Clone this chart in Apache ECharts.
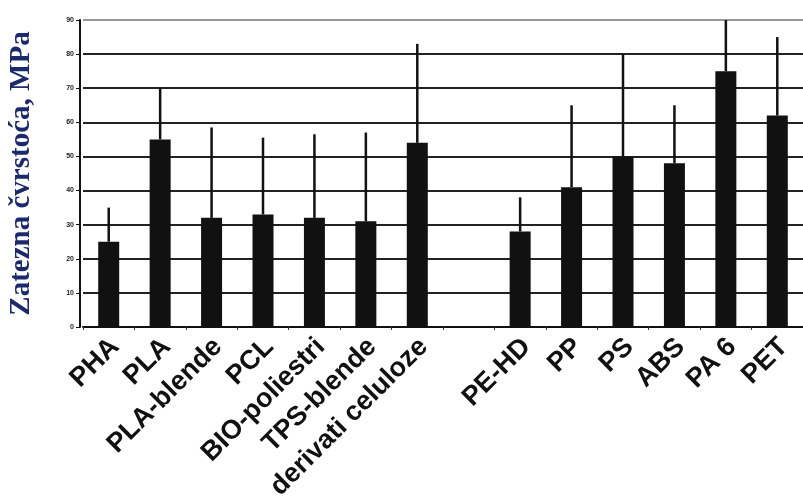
<!DOCTYPE html>
<html>
<head>
<meta charset="utf-8">
<script src="https://cdn.jsdelivr.net/npm/echarts@6/dist/echarts.min.js"></script>
<style>
html,body{margin:0;padding:0;background:#fff;}
#c{width:803px;height:496px;}
</style>
</head>
<body>
<div id="c"></div>
<script>
const categories = ['PHA','PLA','PLA-blende','PCL','BIO-poliestri','TPS-blende','derivati celuloze','','PE-HD','PP','PS','ABS','PA 6','PET'];
const strength = [25,55,32,33,32,31,54,null,28,41,50,48,75,62];
const errorTop = [35,70,58.5,55.5,56.5,57,83,null,38,65,80,65,90,85];
const yTicks = [0,10,20,30,40,50,60,70,80,90];

const chart = echarts.init(document.getElementById('c'), null, {renderer:'canvas'});
const errData = categories.map((c,i)=>[i, strength[i], errorTop[i]]);
chart.setOption({
  animation:false,
  backgroundColor:'#fff',
  grid:{left:83, right:0, top:20, bottom:169, containLabel:false, outerBoundsMode:'none'},
  xAxis:{
    type:'category', data:categories,
    axisLine:{lineStyle:{color:'#111', width:2}},
    axisTick:{show:true, length:3, interval:0, lineStyle:{color:'#333'}},
    axisLabel:{interval:0, rotate:45, margin:22, padding:[0,-9,0,0], color:'#111', fontFamily:'Liberation Sans', fontWeight:'bold', fontSize:27}
  },
  yAxis:{
    type:'value', min:0, max:90, interval:10, offset:3,
    axisLine:{show:true, lineStyle:{color:'#111', width:2}},
    axisTick:{show:true, length:4, lineStyle:{color:'#111'}},
    axisLabel:{color:'#222', fontSize:7, fontWeight:'bold', margin:6,
      formatter:(v)=> yTicks.includes(v) ? String(v) : ''},
    splitLine:{show:true, lineStyle:{color:['#222','#222','#222','#222','#222','#222','#222','#222','#222','#999'], width:2}},
    name:'Zatezna čvrstoća, MPa', nameLocation:'middle', nameGap:44, nameRotate:90,
    nameTextStyle:{color:'#1c2a6b', fontFamily:'Liberation Serif', fontWeight:'bold', fontSize:29}
  },
  series:[
    {type:'bar', data:strength, barWidth:21, itemStyle:{color:'#111'}, z:2},
    {type:'custom', data:errData, z:3,
      renderItem:(params, api)=>{
        if(api.value(2)==null || isNaN(api.value(2))) return;
        const p0 = api.coord([api.value(0), api.value(1)]);
        const p1 = api.coord([api.value(0), api.value(2)]);
        return {type:'line', shape:{x1:p0[0], y1:p0[1], x2:p1[0], y2:p1[1]}, style:{stroke:'#111', lineWidth:2.5}};
      }
    }
  ]
});
</script>
</body>
</html>
